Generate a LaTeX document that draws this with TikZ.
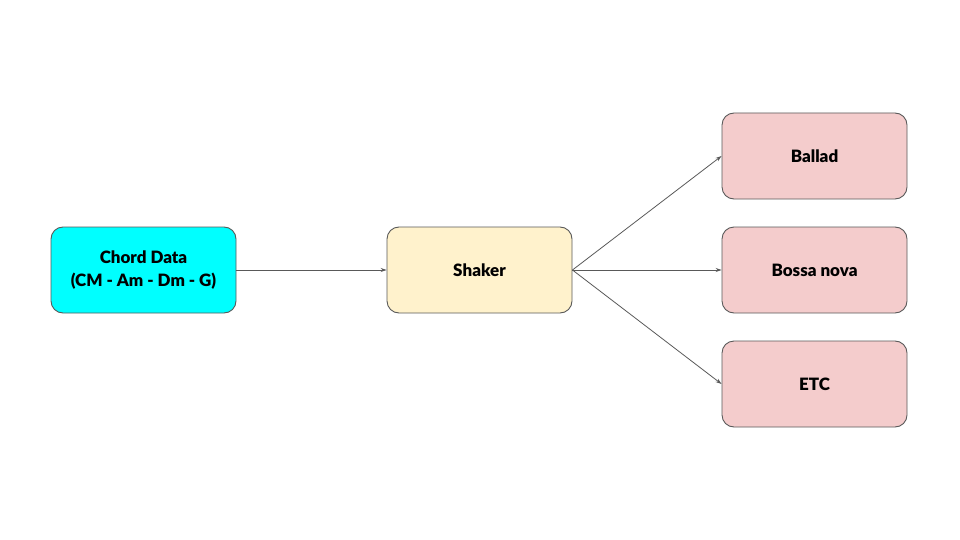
\documentclass[tikz,border=0pt]{standalone}
\usepackage{fontspec}
\setmainfont{Lato}[BoldFont={Lato Black}]
\usetikzlibrary{arrows.meta}
\definecolor{cyanfill}{HTML}{00FFFF}
\definecolor{yellowfill}{HTML}{FFF2CC}
\definecolor{pinkfill}{HTML}{F4CCCC}
\definecolor{edgegray}{HTML}{595959}
\begin{document}
\begin{tikzpicture}[x=1pt,y=-1pt,
  box/.style={draw=edgegray, line width=0.9pt, rounded corners=12pt, minimum width=185pt, minimum height=86pt, inner sep=0pt, align=center, font=\fontsize{17}{23}\selectfont\bfseries},
  conn/.style={draw=edgegray, line width=0.8pt, -{Stealth[length=6pt,width=4pt]}}]
\useasboundingbox (0,0) rectangle (960,540);
\node[box, fill=cyanfill] (chord) at (143.5,270) {Chord Data\\(CM - Am - Dm - G)};
\node[box, fill=yellowfill] (shaker) at (479.5,270) {Shaker};
\node[box, fill=pinkfill] (ballad) at (814.5,156) {Ballad};
\node[box, fill=pinkfill] (bossa) at (814.5,270) {Bossa nova};
\node[box, fill=pinkfill] (etc) at (814.5,384) {ETC};
\draw[conn] (chord.east) -- (shaker.west);
\draw[conn] (shaker.east) -- (ballad.west);
\draw[conn] (shaker.east) -- (bossa.west);
\draw[conn] (shaker.east) -- (etc.west);
\end{tikzpicture}
\end{document}
